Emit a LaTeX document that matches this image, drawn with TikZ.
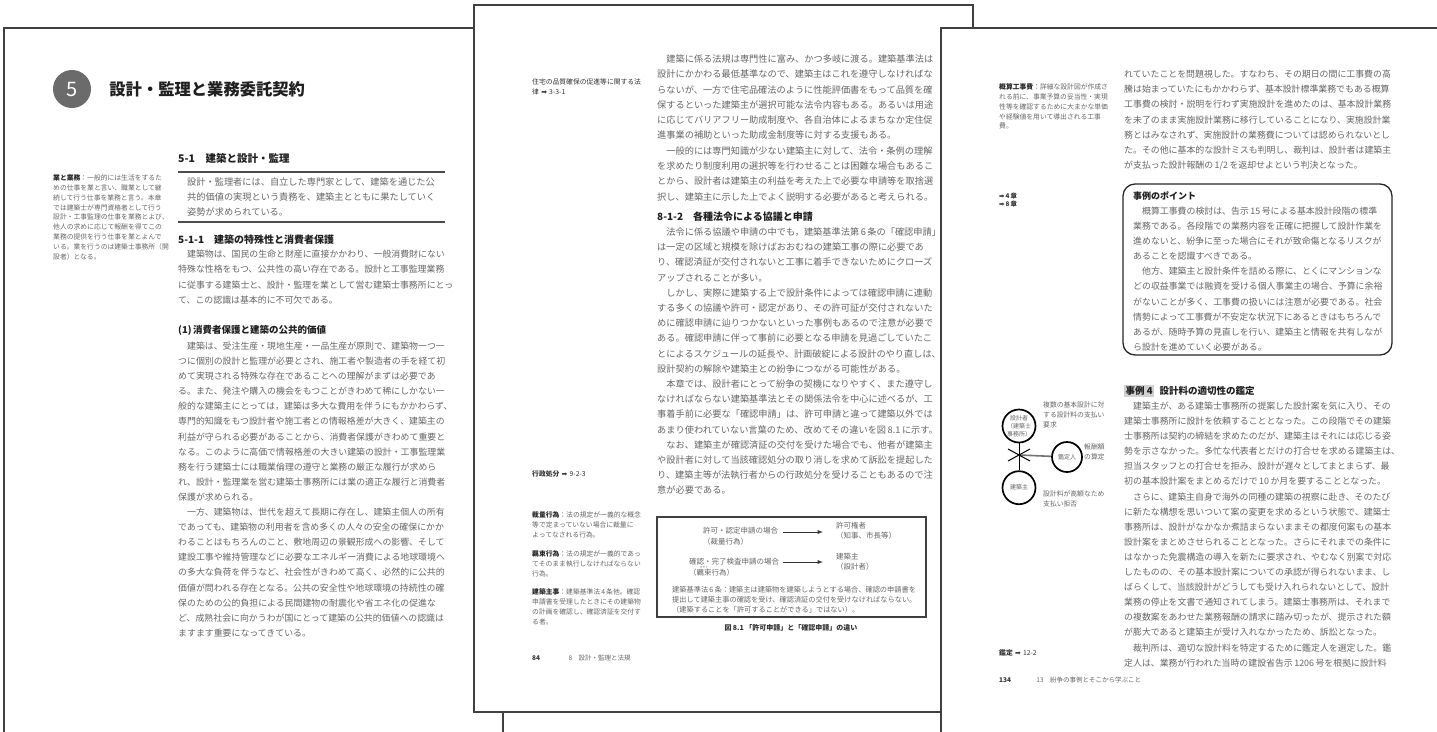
\documentclass[tikz,border=0pt]{standalone}
\usepackage{fontspec}
\setmainfont{Noto Sans CJK JP}
\newfontfamily\symfont{DejaVu Sans}
\usepackage{tikz}
\usetikzlibrary{arrows, positioning}
\definecolor{ink}{gray}{0.4}
\definecolor{edge}{gray}{0.25}
\newcommand{\fsz}[2]{\fontsize{#1}{#2}\selectfont}
\newcommand{\goto}{{\symfont\char"27A1}}
\tikzstyle{page}=[draw=edge, fill=white, line width=1.3pt]
\tikzstyle{txt}=[anchor=base west, inner sep=0pt, text width=330pt, align=left, text=ink]
\tikzstyle{head}=[anchor=west, inner sep=0pt, text=black!88, font=\bfseries\fsz{10}{12}]
\tikzstyle{side}=[txt, text width=120pt, font=\fsz{6.8}{9.8}]
\tikzstyle{rule}=[draw=black!70, line width=1.2pt]
\tikzstyle{party}=[circle, draw=black, line width=1.7pt, minimum size=33pt, inner sep=0pt, align=center, text=ink, font=\fsz{6}{8}]
\begin{document}
\begin{tikzpicture}[x=1pt, y=-1pt]
\useasboundingbox (0,0) rectangle (1437,731);
\clip (0,0) rectangle (1437,731);
\fill[white] (0,0) rectangle (1437,731);
\draw[page] (4,28) rectangle (560,800);
\draw[page] (503,40) rectangle (990,800);
\draw[page] (474,5) rectangle (973,712);
\draw[page] (941,28) rectangle (1500,800);

\node[circle, fill=black!58, minimum size=38pt, inner sep=0pt, text=white, font=\fsz{20}{20}] (c5) at (72,89) {5};
\node[head, font=\bfseries\fsz{16.3}{18}, right=18pt of c5] (ttl) {設計・監理と業務委託契約};
\node[head, font=\bfseries\fsz{10.5}{12}] (s51) at (178,158) {5-1　建築と設計・監理};
\draw[rule] (178,172) -- (445,172);
\draw[rule] (178,222) -- (445,222);
\node[txt, font=\fsz{9.2}{15}] (lead) at (187,185.5) {設計・監理者には、自立した専門家として、建築を通じた公\\
共的価値の実現という責務を、建築主とともに果たしていく\\
姿勢が求められている。};
\node[side] (n1) at (53,180.6) {{\bfseries\color{black!85}業と業務}：一般的には生活をするた\\
めの仕事を業と言い、職業として継\\
続して行う仕事を業務と言う。本章\\
では建築士が専門資格者として行う\\
設計・工事監理の仕事を業務とよび、\\
他人の求めに応じて報酬を得てこの\\
業務の提供を行う仕事を業とよんで\\
いる。業を行うのは建築士事務所（開\\
設者）となる。};
\node[head] (s511) at (178,240) {5-1-1　建築の特殊性と消費者保護};
\node[txt, font=\fsz{8.9}{15.3}] (p1) at (178,257.4) {　建築物は、国民の生命と財産に直接かかわり、一般消費財にない\\
特殊な性格をもつ、公共性の高い存在である。設計と工事監理業務\\
に従事する建築士と、設計・監理を業として営む建築士事務所にとっ\\
て、この認識は基本的に不可欠である。};
\node[head, font=\bfseries\fsz{9.5}{12}] (s1) at (178,330) {(1)\,消費者保護と建築の公共的価値};
\node[txt, font=\fsz{8.9}{15.1}] (p2) at (178,349.4) {　建築は、受注生産・現地生産・一品生産が原則で、建築物一つ一\\
つに個別の設計と監理が必要とされ、施工者や製造者の手を経て初\\
めて実現される特殊な存在であることへの理解がまずは必要であ\\
る。また、発注や購入の機会をもつことがきわめて稀にしかない一\\
般的な建築主にとっては，建築は多大な費用を伴うにもかかわらず、\\
専門的知識をもつ設計者や施工者との情報格差が大きく、建築主の\\
利益が守られる必要があることから、消費者保護がきわめて重要と\\
なる。このように高価で情報格差の大きい建築の設計・工事監理業\\
務を行う建築士には職業倫理の遵守と業務の厳正な履行が求めら\\
れ、設計・監理業を営む建築士事務所には業の適正な履行と消費者\\
保護が求められる。\\
　一方、建築物は、世代を超えて長期に存在し、建築主個人の所有\\
であっても、建築物の利用者を含め多くの人々の安全の確保にかか\\
わることはもちろんのこと、敷地周辺の景観形成への影響、そして\\
建設工事や維持管理などに必要なエネルギー消費による地球環境へ\\
の多大な負荷を伴うなど、社会性がきわめて高く、必然的に公共的\\
価値が問われる存在となる。公共の安全性や地球環境の持続性の確\\
保のための公的負担による民間建物の耐震化や省エネ化の促進な\\
ど、成熟社会に向かうわが国にとって建築の公共的価値への認識は\\
ますます重要になってきている。};

\node[side, text=black!80] (n2) at (532,84.6) {住宅の品質確保の促進等に関する法\\
律 \goto\ 3-3-1};
\node[txt, font=\fsz{9.2}{15.3}] (p3) at (657,62.4) {　建築に係る法規は専門性に富み、かつ多岐に渡る。建築基準法は\\
設計にかかわる最低基準なので、建築主はこれを遵守しなければな\\
らないが、一方で住宅品確法のように性能評価書をもって品質を確\\
保するといった建築主が選択可能な法令内容もある。あるいは用途\\
に応じてバリアフリー助成制度や、各自治体によるまちなか定住促\\
進事業の補助といった助成金制度等に対する支援もある。\\
　一般的には専門知識が少ない建築主に対して、法令・条例の理解\\
を求めたり制度利用の選択等を行わせることは困難な場合もあるこ\\
とから、設計者は建築主の利益を考えた上で必要な申請等を取捨選\\
択し、建築主に示した上でよく説明する必要があると考えられる。};
\node[head] (s812) at (657,217) {8-1-2　各種法令による協議と申請};
\node[txt, font=\fsz{9.2}{15.2}] (p4) at (657,235.4) {　法令に係る協議や申請の中でも，建築基準法第\,6\,条の「確認申請」\\
は一定の区域と規模を除けばおおむねの建築工事の際に必要であ\\
り、確認済証が交付されないと工事に着手できないためにクローズ\\
アップされることが多い。\\
　しかし、実際に建築する上で設計条件によっては確認申請に連動\\
する多くの協議や許可・認定があり、その許可証が交付されないた\\
めに確認申請に辿りつかないといった事例もあるので注意が必要で\\
ある。確認申請に伴って事前に必要となる申請を見過ごしていたこ\\
とによるスケジュールの延長や、計画破綻による設計のやり直しは、\\
設計契約の解除や建築主との紛争につながる可能性がある。\\
　本章では、設計者にとって紛争の契機になりやすく、また遵守し\\
なければならない建築基準法とその関係法令を中心に述べるが、工\\
事着手前に必要な「確認申請」は、許可申請と違って建築以外では\\
あまり使われていない言葉のため、改めてその違いを図\,8.1\,に示す。\\
　なお、建築主が確認済証の交付を受けた場合でも、他者が建築主\\
や設計者に対して当該確認処分の取り消しを求めて訴訟を提起した\\
り、建築主等が法執行者からの行政処分を受けることもあるので注\\
意が必要である。};
\node[side, text=black!80] (n3) at (532,476.6) {{\bfseries 行政処分} \goto\ 9-2-3};
\node[side] (n4) at (532,517.6) {{\bfseries\color{black!85}裁量行為}：法の規定が一義的な概念\\
等で定まっていない場合に裁量に\\
よってなされる行為。};
\node[side] (n5) at (532,556.6) {{\bfseries\color{black!85}羈束行為}：法の規定が一義的であっ\\
てそのまま執行しなければならない\\
行為。};
\node[side] (n6) at (532,594.6) {{\bfseries\color{black!85}建築主事}：建築基準法\,4\,条他。確認\\
申請書を受理したときにその建築物\\
の計画を確認し、確認済証を交付す\\
る者。};
\draw[draw=black!75, line width=1.5pt] (657,517) rectangle (926,617);
\node[txt, font=\fsz{7.5}{10.5}] (k1) at (703,533.9) {許可・認定申請の場合\\（裁量行為）};
\node[txt, font=\fsz{7.5}{10.5}] (k2) at (689,564.9) {確認・完了検査申請の場合\\（羈束行為）};
\node[inner sep=0pt, text=ink, font=\fsz{2.8}{3}] (rb) at (704,567.5) {きそく};
\node[txt, font=\fsz{7.5}{10}] (kk) at (836,528.9) {許可権者\\（知事、市長等）};
\node[txt, font=\fsz{7.5}{10}] (kn) at (836,559.9) {建築主\\（設計者）};
\coordinate (a1) at (783,532);
\coordinate (b1) at (823,532);
\coordinate (a2) at (783,562);
\coordinate (b2) at (823,562);
\draw[-latex, black!80, line width=0.9pt] (a1) -- (b1);
\draw[-latex, black!80, line width=0.9pt] (a2) -- (b2);
\node[txt, font=\fsz{7.2}{9.7}] (k3) at (672,592.7) {建築基準法\,6\,条：建築主は建築物を建築しようとする場合、確認の申請書を\\
提出して建築主事の確認を受け、確認済証の交付を受けなければならない。\\
（建築することを「許可することができる」ではない）。};
\node[head, font=\bfseries\fsz{7}{8}, anchor=center, text=black!80] (cap) at (791,628) {図\,8.1 「許可申請」と「確認申請」の違い};
\node[head, font=\bfseries\fsz{6.5}{8}, text=black!80] (pg1) at (532,658) {84};
\node[head, font=\fsz{6.5}{8}, text=ink, right=28pt of pg1] (rn1) {8　設計・監理と法規};

\node[side] (n7) at (999,89.6) {{\bfseries\color{black!85}概算工事費}：詳細な設計図が作成さ\\
れる前に、事業予算の妥当性・実現\\
性等を確認するために大まかな単価\\
や経験値を用いて導出される工事\\
費。};
\node[txt, font=\fsz{8.9}{15.2}] (p5) at (1124,77.4) {れていたことを問題視した。すなわち、その期日の間に工事費の高\\
騰は始まっていたにもかかわらず、基本設計標準業務でもある概算\\
工事費の検討・説明を行わず実施設計を進めたのは、基本設計業務\\
を未了のまま実施設計業務に移行していることになり、実施設計業\\
務とはみなされず、実施設計の業務費については認められないとし\\
た。その他に基本的な設計ミスも判明し、裁判は、設計者は建築主\\
が支払った設計報酬の\,1/2\,を返却せよという判決となった。};
\node[side, text=black!80, font=\bfseries\fsz{6.4}{8.7}] (n8) at (999,198.2) {\goto\,4\,章\\\goto\,8\,章};
\draw[black!85, line width=1.3pt, rounded corners=12pt] (1123,184) rectangle (1392,355);
\node[head, font=\bfseries\fsz{9}{10}] (pt) at (1133,196) {事例のポイント};
\node[txt, font=\fsz{8.9}{15.1}] (p6) at (1133,214.4) {　概算工事費の検討は、告示\,15\,号による基本設計段階の標準\\
業務である。各段階での業務内容を正確に把握して設計作業を\\
進めないと、紛争に至った場合にそれが致命傷となるリスクが\\
あることを認識すべきである。\\
　他方、建築主と設計条件を詰める際に、とくにマンションな\\
どの収益事業では融資を受ける個人事業主の場合、予算に余裕\\
がないことが多く、工事費の扱いには注意が必要である。社会\\
情勢によって工事費が不安定な状況下にあるときはもちろんで\\
あるが、随時予算の見直しを行い、建築主と情報を共有しなが\\
ら設計を進めていく必要がある。};
\node[head, font=\bfseries\fsz{9.5}{10}, fill=black!18, inner sep=1.5pt] (ex4) at (1124,391) {事例 4};
\node[head, font=\bfseries\fsz{9.5}{10}, right=5pt of ex4] (ex4t) {設計料の適切性の鑑定};
\node[txt, font=\fsz{8.9}{15.1}] (p7) at (1124,409.4) {　建築主が、ある建築士事務所の提案した設計案を気に入り、その\\
建築士事務所に設計を依頼することとなった。この段階でその建築\\
士事務所は契約の締結を求めたのだが、建築主はそれには応じる姿\\
勢を示さなかった。多忙な代表者とだけの打合せを求める建築主は、\\
担当スタッフとの打合せを拒み、設計が遅々としてまとまらず、最\\
初の基本設計案をまとめるだけで\,10\,か月を要することとなった。\\
　さらに、建築主自身で海外の同種の建築の視察に赴き、そのたび\\
に新たな構想を思いついて案の変更を求めるという状態で、建築士\\
事務所は、設計がなかなか煮詰まらないままその都度何案もの基本\\
設計案をまとめさせられることとなった。さらにそれまでの条件に\\
はなかった免震構造の導入を新たに要求され、やむなく別案で対応\\
したものの、その基本設計案についての承認が得られないまま、し\\
ばらくして、当該設計がどうしても受け入れられないとして、設計\\
業務の停止を文書で通知されてしまう。建築士事務所は、それまで\\
の複数案をあわせた業務報酬の請求に踏み切ったが、提示された額\\
が膨大であると建築主が受け入れなかったため、訴訟となった。\\
　裁判所は、適切な設計料を特定するために鑑定人を選定した。鑑\\
定人は、業務が行われた当時の建設省告示\,1206\,号を根拠に設計料};
\node[party] (dsg) at (1019,426) {設計者\\（建築士\\事務所）};
\node[party, below=27pt of dsg] (cli) {建築主};
\node[party, minimum size=30pt] (apr) at (1067,457) {鑑定人};
\coordinate (xc) at (1019,455);
\draw[black, line width=1pt] (dsg) -- (cli);
\draw[black!55, line width=1.6pt] (apr) -- (xc);
\draw[black, line width=1pt] ([shift={(-11,-6)}]xc) -- ([shift={(11,6)}]xc);
\draw[black, line width=1pt] ([shift={(-11,6)}]xc) -- ([shift={(11,-6)}]xc);
\node[side] (d1) at (1043,407.6) {複数の基本設計に対\\する設計料の支払い\\要求};
\node[side] (d2) at (1084,449.6) {報酬額\\の算定};
\node[side] (d3) at (1043,496.6) {設計料が高額なため\\支払い拒否};
\node[side, text=black!80] (n9) at (999,655.6) {{\bfseries 鑑定} \goto\ 12-2};
\node[head, font=\bfseries\fsz{6.5}{8}, text=black!80] (pg2) at (999,680) {134};
\node[head, font=\fsz{6.5}{8}, text=ink, right=25pt of pg2] (rn2) {13　紛争の事例とそこから学ぶこと};
\end{tikzpicture}
\end{document}
